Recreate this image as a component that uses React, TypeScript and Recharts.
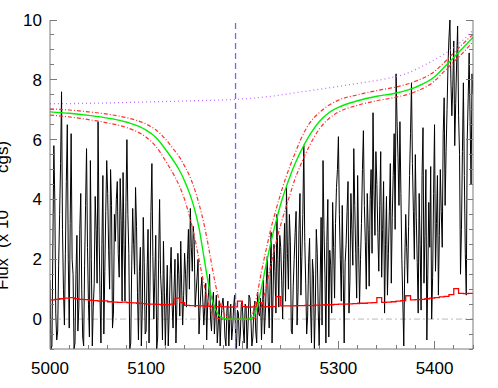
import { LineChart, Line, XAxis, YAxis, ReferenceLine } from "recharts"

// observed spectrum, even wavelengths (5000, 5002, ... 5440)
const specStart = 5000
const specEven = [
  1.3, -0.9, 5.8, 0.2, -0.4, 3.5, 7.6, 1.0, 2.2, 6.5,
  -0.3, 6.2, 1.5, -0.8, 2.8, 0.4, 4.2, -0.6, 1.8, 5.7,
  0.5, 5.3, -0.9, 1.2, 3.0, 6.6, 0.8, 2.5, -0.5, 3.6,
  4.2, 1.0, 3.8, 0.2, 2.6, 4.6, 1.4, 3.3, 4.9, 0.6,
  6.0, 2.2, -0.8, 3.7, 1.5, 3.1, -0.7, 2.4, 0.3, 1.9,
  -0.4, 3.0, 1.1, 5.2, 0.0, 2.8, -0.6, 4.0, 0.8, 2.6,
  -0.9, 1.8, 0.2, 2.4, -0.3, 2.0, 0.5, 1.5, 2.6, -0.2,
  2.2, 0.4, 3.0, 3.7, 1.6, 2.6, 0.9, 2.0, 0.3, 1.4,
  -0.2, 1.2, 0.5, 1.5, -0.4, 0.9, 0.2, -0.8, 0.6, 0.0,
  0.7, -0.6, 0.3, -0.9, 0.5, -0.3, 0.8, -1.0, 0.2, -0.5,
  0.6, -0.8, 0.4, -0.2, 0.7, -0.9, 0.3, -0.4, 0.9, 0.1,
  -0.7, 1.3, 0.2, 2.1, -0.3, 2.9, 0.8, 1.6, 3.5, 0.4,
  2.4, 0.0, 3.2, 4.4, 1.0, 2.6, -0.5, 2.0, 3.6, 0.9,
  4.2, 2.1, 5.8, 1.2, 0.1, 2.7, -0.8, 1.5, 0.4, 2.2,
  -0.9, 3.4, 5.3, 1.5, 2.6, -0.6, 1.8, 3.9, 0.7, 4.4,
  6.1, 2.0, 3.8, -0.8, 2.5, 4.6, 1.3, 3.0, 5.7, 2.2,
  4.8, 0.5, 3.2, 6.3, 2.6, 4.2, 1.1, 5.0, 6.9, 2.8,
  4.5, 1.6, 5.6, 3.0, 0.2, 4.1, 2.2, 5.2, 3.4, 6.2,
  8.2, 5.4, 6.6, 2.0, -0.9, 3.5, 1.2, 4.8, 7.9, 3.6,
  5.5, 1.9, 4.2, 0.3, 6.4, 2.8, -0.7, 3.9, 5.1, 1.4,
  6.5, 3.2, 0.8, 5.0, 2.4, 7.4, 5.6, 8.5, 10.0, 6.8,
  9.3, 7.2, 9.8, 5.5, 3.0, 7.9, 2.2, 6.0, 8.9, 4.5,
  7.5,
]
// observed spectrum, odd wavelengths (5001, 5003, ... 5439)
const specOdd = [
  -1.0, 2.5, 4.0, -0.7, 1.8, 5.2, 3.0, -0.2, 4.6, 2.0,
  3.2, 2.0, -1.0, 1.5, -0.4, 3.0, 1.0, -0.9, 3.8, 2.4,
  -0.6, 2.0, 0.4, 4.1, 1.2, 3.1, -0.8, 4.8, 1.6, 5.3,
  2.3, 5.0, -0.3, 3.5, 4.0, 2.2, 4.7, 0.6, 2.5, 3.9,
  3.5, -1.0, 1.8, 2.5, 4.4, 0.9, 1.6, -0.9, 3.4, -0.5,
  1.6, -0.8, 3.6, 2.1, 1.4, -1.0, 2.0, 1.5, -0.7, 0.9,
  0.6, -0.9, 1.5, 0.5, 1.0, -0.8, 2.2, 0.1, 1.0, 0.8,
  1.5, 2.0, 1.0, 2.4, 3.1, 0.4, 1.4, -0.5, 1.0, 0.6,
  0.4, -0.7, 0.9, 0.0, 0.6, -0.5, 0.8, -0.2, -0.9, 0.5,
  0.2, -0.9, 0.6, 0.0, -0.7, 0.4, -0.5, 0.3, -0.9, 0.5,
  -0.3, 0.5, -1.0, 0.8, 0.0, -0.6, 0.6, -0.8, 0.2, 0.7,
  0.4, -0.5, 1.2, 0.6, 1.4, -0.8, 2.5, 0.2, 2.0, 2.8,
  1.3, 2.0, 0.6, 2.2, 3.5, -0.4, 1.1, 2.9, -0.2, 3.0,
  0.8, 3.5, 2.6, -0.5, 1.9, 0.4, 2.0, -1.0, 3.0, 0.3,
  1.2, -0.2, 3.0, -0.8, 4.0, 2.3, 0.2, 2.4, 3.2, 5.0,
  3.5, 0.6, 1.5, 1.9, 3.6, 0.2, 4.2, 1.8, 3.8, 0.7,
  2.4, 2.0, 5.0, 3.8, 1.0, 3.0, 4.0, 2.2, 4.3, 5.6,
  2.9, 3.8, 1.4, 4.6, 2.5, 0.8, 3.6, 1.2, 4.8, 3.0,
  6.6, 3.8, 4.2, 0.6, 1.8, 2.4, 3.1, 6.2, 5.2, 2.0,
  3.4, 0.2, 2.5, 4.8, 1.2, 5.0, 1.5, 2.4, 0.0, 4.2,
  1.6, 4.8, 2.8, 3.6, 6.2, 3.8, 7.0, 9.4, 8.0, 7.8,
  5.8, 8.6, 6.8, 1.5, 5.6, 4.8, 0.8, 7.4, 6.6, 8.2,
]

// error spectrum, 5 A bins starting at 5000
const errStart = 5000
const errStep = 5
const errFlux = [
  0.64, 0.66, 0.68, 0.7, 0.72, 0.68, 0.66, 0.65, 0.63, 0.62,
  0.6, 0.61, 0.58, 0.57, 0.56, 0.57, 0.55, 0.54, 0.53, 0.52,
  0.5, 0.5, 0.49, 0.48, 0.48, 0.5, 0.7, 0.55, 0.46, 0.45,
  0.45, 0.44, 0.43, 0.43, 0.42, 0.42, 0.41, 0.4, 0.41, 0.6,
  0.42, 0.4, 0.41, 0.55, 0.41, 0.42, 0.42, 0.75, 0.44, 0.44,
  0.44, 0.45, 0.45, 0.46, 0.45, 0.47, 0.47, 0.48, 0.48, 0.49,
  0.5, 0.5, 0.51, 0.52, 0.53, 0.53, 0.54, 0.55, 0.72, 0.56,
  0.57, 0.58, 0.6, 0.62, 0.78, 0.64, 0.65, 0.66, 0.68, 0.7,
  0.72, 0.74, 0.76, 0.82, 1.02, 0.86, 0.85, 0.86, 0.88,
]

// model fit and its upper / lower envelope
const modelWave = [
  5000, 5020, 5040, 5060, 5080, 5100, 5110, 5120, 5130, 5135,
  5140, 5145, 5150, 5155, 5160, 5165, 5170, 5175, 5180, 5185,
  5190, 5200, 5205, 5210, 5215, 5220, 5225, 5230, 5235, 5240,
  5245, 5250, 5255, 5260, 5270, 5280, 5290, 5300, 5320, 5340,
  5360, 5380, 5400, 5410, 5420, 5430, 5440,
]
const modelFlux = [
  6.93, 6.88, 6.81, 6.72, 6.58, 6.32, 6.08, 5.68, 5.22, 4.95,
  4.62, 4.22, 3.72, 3.05, 2.1, 1.15, 0.5, 0.15, 0.03, 0,
  0, 0, 0, 0.03, 0.35, 1.05, 1.85, 2.6, 3.25, 3.85,
  4.35, 4.8, 5.2, 5.55, 6.15, 6.6, 6.9, 7.08, 7.3, 7.45,
  7.56, 7.75, 8.1, 8.42, 8.75, 9.08, 9.42,
]
const modelHigh = [
  7.03, 6.99, 6.93, 6.85, 6.73, 6.52, 6.33, 6.02, 5.62, 5.4,
  5.12, 4.8, 4.38, 3.85, 3.2, 2.4, 1.5, 0.75, 0.25, 0.05,
  0, 0, 0, 0.12, 0.75, 1.6, 2.35, 3.05, 3.65, 4.2,
  4.7, 5.15, 5.55, 5.95, 6.55, 6.9, 7.15, 7.32, 7.5, 7.64,
  7.76, 7.95, 8.28, 8.58, 8.9, 9.22, 9.52,
]
const modelLow = [
  6.82, 6.76, 6.67, 6.56, 6.4, 6.08, 5.78, 5.3, 4.75, 4.42,
  4.0, 3.45, 2.8, 2.0, 1.2, 0.5, 0.12, 0.02, 0, 0,
  0, 0, 0, 0, 0.08, 0.45, 1.1, 1.85, 2.55, 3.15,
  3.7, 4.2, 4.7, 5.1, 5.8, 6.35, 6.7, 6.92, 7.15, 7.3,
  7.42, 7.6, 7.96, 8.28, 8.6, 8.92, 9.28,
]

// continuum
const contWave = [5000, 5050, 5100, 5150, 5200, 5230, 5260, 5290, 5320, 5350, 5370, 5390, 5410, 5425, 5440]
const contFlux = [7.2, 7.22, 7.26, 7.3, 7.36, 7.45, 7.59, 7.73, 7.88, 8.04, 8.2, 8.5, 8.86, 9.2, 9.65]

const lineCenter = 5193

const xTicks = [
  5000, 5020, 5040, 5060, 5080, 5100, 5120, 5140, 5160, 5180, 5200, 5220,
  5240, 5260, 5280, 5300, 5320, 5340, 5360, 5380, 5400, 5420, 5440,
]
const xMajor = [5000, 5100, 5200, 5300, 5400]
const yTicks = [
  -1, -0.5, 0, 0.5, 1, 1.5, 2, 2.5, 3, 3.5, 4, 4.5, 5, 5.5,
  6, 6.5, 7, 7.5, 8, 8.5, 9, 9.5, 10,
]
const yMajor = [0, 2, 4, 6, 8, 10]

const AXIS = "#7a7a7a"
const FONT = "'Liberation Sans', Arial, sans-serif"

const specData: { w: number; f: number }[] = []
specEven.forEach((f, i) => {
  specData.push({ w: specStart + 2 * i, f })
  if (i < specOdd.length) specData.push({ w: specStart + 2 * i + 1, f: specOdd[i] })
})
const errData = errFlux.map((f, i) => ({ w: errStart + i * errStep, f }))
const modelData = modelWave.map((w, i) => ({ w, g: modelFlux[i], hi: modelHigh[i], lo: modelLow[i] }))
const contData = contWave.map((w, i) => ({ w, f: contFlux[i] }))

const XTick = (props: any) => {
  const { x, y, payload, side } = props
  const major = xMajor.includes(payload.value)
  const len = major ? 8 : 4
  const dir = side === "top" ? 1 : -1
  return (
    <g>
      <line x1={x} x2={x} y1={y} y2={y + dir * len} stroke={AXIS} strokeWidth={1} shapeRendering="crispEdges" />
      {side !== "top" && major && (
        <text x={x} y={y + 25} textAnchor="middle" fontSize={17} fontFamily={FONT} fill="#000">
          {payload.value}
        </text>
      )}
    </g>
  )
}

const YTick = (props: any) => {
  const { x, y, payload, side } = props
  const major = yMajor.includes(payload.value)
  const len = major ? 7 : 4
  const dir = side === "right" ? -1 : 1
  return (
    <g>
      <line x1={x} x2={x + dir * len} y1={y} y2={y} stroke={AXIS} strokeWidth={1} shapeRendering="crispEdges" />
      {side !== "right" && major && (
        <text x={x - 8} y={y + 6} textAnchor="end" fontSize={17} fontFamily={FONT} fill="#000">
          {payload.value}
        </text>
      )}
    </g>
  )
}

export default function App() {
  return (
    <div style={{ position: "absolute", left: 0, top: 0, width: 498, height: 388, background: "#fff" }}>
      <LineChart width={498} height={388} margin={{ top: 20, right: 24, bottom: 0, left: 0 }}>
        <XAxis
          xAxisId="b"
          dataKey="w"
          type="number"
          domain={[5000, 5440]}
          allowDataOverflow
          ticks={xTicks}
          interval={0}
          height={39}
          tickSize={0}
          tickMargin={0}
          tickLine={false}
          axisLine={{ stroke: AXIS }}
          tick={<XTick side="bottom" />}
        />
        <XAxis
          xAxisId="t"
          dataKey="w"
          type="number"
          orientation="top"
          domain={[5000, 5440]}
          allowDataOverflow
          ticks={xTicks}
          interval={0}
          height={0}
          tickSize={0}
          tickMargin={0}
          tickLine={false}
          axisLine={{ stroke: AXIS }}
          tick={<XTick side="top" />}
        />
        <YAxis
          yAxisId="l"
          type="number"
          domain={[-1, 10]}
          allowDataOverflow
          ticks={yTicks}
          interval={0}
          width={50}
          tickSize={0}
          tickMargin={0}
          tickLine={false}
          axisLine={{ stroke: AXIS }}
          tick={<YTick side="left" />}
        />
        <YAxis
          yAxisId="r"
          orientation="right"
          type="number"
          domain={[-1, 10]}
          allowDataOverflow
          ticks={yTicks}
          interval={0}
          width={1}
          tickSize={0}
          tickMargin={0}
          tickLine={false}
          axisLine={{ stroke: AXIS }}
          tick={<YTick side="right" />}
        />
        <ReferenceLine xAxisId="b" yAxisId="l" y={0} stroke="#bbbbbb" strokeDasharray="6 3 2 3" />
        <Line
          xAxisId="b"
          yAxisId="l"
          data={specData}
          dataKey="f"
          type="linear"
          stroke="#000"
          strokeWidth={1}
          dot={false}
          isAnimationActive={false}
        />
        <Line
          xAxisId="b"
          yAxisId="l"
          data={errData}
          dataKey="f"
          type="stepAfter"
          stroke="#ff0000"
          strokeWidth={1.3}
          dot={false}
          isAnimationActive={false}
        />
        <Line
          xAxisId="t"
          yAxisId="r"
          data={contData}
          dataKey="f"
          type="monotone"
          stroke="#c070ff"
          strokeWidth={1.3}
          strokeDasharray="1 3"
          dot={false}
          isAnimationActive={false}
        />
        <Line
          xAxisId="b"
          yAxisId="l"
          data={modelData}
          dataKey="hi"
          type="monotone"
          stroke="#ff3030"
          strokeWidth={1.2}
          strokeDasharray="4 2 1 2"
          dot={false}
          isAnimationActive={false}
        />
        <Line
          xAxisId="b"
          yAxisId="l"
          data={modelData}
          dataKey="lo"
          type="monotone"
          stroke="#ff3030"
          strokeWidth={1.2}
          strokeDasharray="4 2 1 2"
          dot={false}
          isAnimationActive={false}
        />
        <Line
          xAxisId="b"
          yAxisId="l"
          data={modelData}
          dataKey="g"
          type="monotone"
          stroke="#00ee00"
          strokeWidth={1.4}
          dot={false}
          isAnimationActive={false}
        />
        <ReferenceLine xAxisId="b" yAxisId="l" x={lineCenter} stroke="#6b6bff" strokeWidth={1.3} strokeDasharray="6 4" />
      </LineChart>
      <svg width={498} height={388} style={{ position: "absolute", left: 0, top: 0, pointerEvents: "none" }}>
        <text
          x={8}
          y={290}
          transform="rotate(-90 8 290)"
          fontSize={17}
          fontFamily={FONT}
          fill="#000"
        >
          Flux
          <tspan dx={10}>(x 10</tspan>
          <tspan dx={37}>cgs)</tspan>
        </text>
      </svg>
    </div>
  )
}
